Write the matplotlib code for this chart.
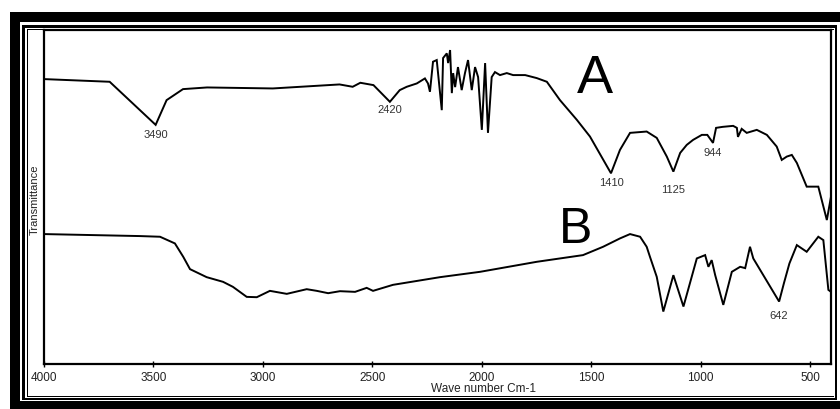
import matplotlib
matplotlib.use("Agg")
import matplotlib.pyplot as plt
from matplotlib.patches import Rectangle

# Spectrum A (wave number in cm-1, transmittance in arbitrary %)
wn_a = [4000, 3700, 3490, 3440, 3365, 3255, 2955, 2650, 2590, 2555,
        2495, 2420, 2375, 2343, 2297, 2260, 2246, 2237, 2223, 2206,
        2183, 2177, 2160, 2154, 2145, 2137, 2131, 2122, 2109, 2092,
        2077, 2063, 2046, 2031, 2017, 2000, 1985, 1972, 1955, 1940,
        1917, 1886, 1857, 1802, 1749, 1703, 1643, 1566, 1506, 1410,
        1369, 1323, 1247, 1201, 1155, 1125, 1094, 1064, 1035, 995,
        970, 944, 930, 900, 852, 835, 830, 813, 790, 744,
        698, 653, 630, 607, 584, 561, 516, 463, 424, 405]
t_a = [85.3, 84.5, 71.6, 79.0, 82.3, 82.8, 82.5, 83.7, 83.0, 84.2,
       83.5, 78.5, 82.0, 83.0, 84.0, 85.5, 84.0, 81.5, 90.5, 91.0,
       76.0, 91.6, 93.0, 90.1, 94.0, 81.1, 87.1, 82.9, 88.9, 82.0,
       87.1, 91.0, 82.0, 88.9, 85.9, 70.1, 90.1, 69.2, 85.9, 87.4,
       86.5, 87.1, 86.5, 86.5, 85.6, 84.5, 79.0, 73.1, 68.1, 57.1,
       64.1, 69.2, 69.6, 67.7, 62.1, 57.6, 63.2, 65.6, 67.1, 68.6,
       68.6, 66.2, 70.7, 71.0, 71.3, 70.7, 68.0, 70.4, 69.2, 70.1,
       68.6, 65.1, 61.1, 62.1, 62.6, 60.2, 53.1, 53.1, 43.1, 50.1]

# Spectrum B
wn_b = [4000, 3561, 3470, 3402, 3364, 3333, 3257, 3182, 3137, 3074,
        3028, 2968, 2891, 2800, 2754, 2702, 2648, 2579, 2526, 2497,
        2406, 2191, 2008, 1749, 1538, 1446, 1369, 1323, 1277, 1247,
        1232, 1201, 1171, 1125, 1079, 1018, 980, 965, 950, 934,
        897, 858, 820, 797, 775, 760, 642, 620, 595, 561,
        516, 463, 440, 417, 405]
t_b = [38.9, 38.3, 38.1, 36.1, 32.1, 28.4, 26.0, 24.6, 23.1, 20.1,
       20.0, 21.9, 21.0, 22.4, 21.9, 21.2, 21.8, 21.6, 22.8, 21.9,
       23.7, 26.0, 27.6, 30.6, 32.6, 35.1, 37.6, 38.9, 38.1, 35.1,
       32.1, 26.1, 15.7, 26.6, 17.2, 31.6, 32.6, 29.1, 31.1, 26.6,
       17.7, 27.6, 29.1, 28.7, 35.1, 31.6, 18.7, 24.2, 30.1, 35.6,
       33.6, 38.1, 37.1, 22.2, 21.6]

# Annotated band positions and the height of their labels
peak_text = ["3490", "2420", "1410", "1125", "944", "642"]
peak_wn = [3490, 2420, 1410, 1125, 944, 642]
peak_label_t = [68.6, 76.0, 54.2, 52.1, 63.2, 14.4]

xtick_values = [4000, 3500, 3000, 2500, 2000, 1500, 1000, 500]
xtick_text = ["4000", "3500", "3000", "2500", "2000", "1500", "1000", "500"]

FONT = "Liberation Sans"
W, H = 840, 409

fig = plt.figure(figsize=(W / 100, H / 100), dpi=100)
fig.patch.set_facecolor("white")


def px_box(x0, y0, x1, y1):
    """Filled black box given in pixel coordinates (origin top-left)."""
    fig.add_artist(Rectangle((x0 / W, 1 - y1 / H), (x1 - x0) / W, (y1 - y0) / H,
                             transform=fig.transFigure, facecolor="black",
                             edgecolor="none", zorder=5))


# Heavy outer frame
px_box(10, 12, 20, 409)
px_box(10, 12, 840, 22)
px_box(10, 401, 840, 409)
# Middle frame line
px_box(22, 25, 25, 400)
px_box(22, 25, 837, 28)
px_box(835, 25, 837, 400)
px_box(22, 398, 837, 400)
# Thin inner frame line
px_box(27, 29, 28, 397)
px_box(27, 29, 834, 30)
px_box(27, 396, 834, 397)

ax = fig.add_axes([44 / W, 1 - 364 / H, (831 - 44) / W, (364 - 30) / H])
ax.plot(wn_a, t_a, color="black", lw=1.4, solid_joinstyle="miter")
ax.plot(wn_b, t_b, color="black", lw=1.4, solid_joinstyle="miter")

ax.set_xlim(4000, 405)
ax.set_ylim(0, 100)
ax.set_yticks([])
ax.set_xticks(xtick_values)
ax.set_xticklabels(xtick_text, fontfamily=FONT, fontsize=8.5, color="#222222")
ax.tick_params(axis="x", direction="inout", length=5, width=1, pad=3)
for side in ax.spines.values():
    side.set_linewidth(1.6)
    side.set_color("black")

for txt, x, y in zip(peak_text, peak_wn, peak_label_t):
    ax.text(x, y, txt, ha="center", va="center", fontfamily=FONT,
            fontsize=8, color="#333333")

ax.text(1483, 81.1, "A", ha="center", va="baseline", fontfamily=FONT, fontsize=39)
ax.text(1574, 36.2, "B", ha="center", va="baseline", fontfamily=FONT, fontsize=36)

fig.text(484 / W, 1 - 389 / H, "Wave number Cm-1", ha="center", va="center",
         fontfamily=FONT, fontsize=8.5, color="#222222")
fig.text(35 / W, 1 - 200 / H, "Transmittance", ha="center", va="center",
         rotation=90, fontfamily=FONT, fontsize=8, color="#222222")

fig.savefig("out.png", dpi=100)
